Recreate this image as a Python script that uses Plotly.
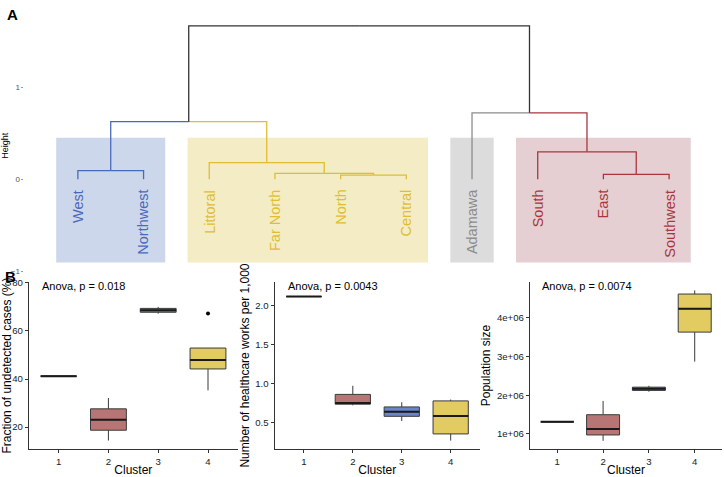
import plotly.graph_objects as go

# ---- A: hierarchical clustering of regions (k = 4) ----
leaves = ["West", "Northwest", "Littoral", "Far North", "North", "Central",
          "Adamawa", "South", "East", "Southwest"]
leaf_cluster = [3, 3, 4, 4, 4, 4, 1, 2, 2, 2]
# R-style merge matrix: negative = leaf index (1-based), positive = earlier merge
merge_left = [-1, -5, -4, -3, -9, -8, 1, -7, 7]
merge_right = [-2, -6, 2, 3, -10, 5, 4, 6, 8]
merge_height = [0.096, 0.046, 0.064, 0.182, 0.054, 0.30, 0.628, 0.725, 1.672]

# ---- B: box statistics per cluster ----
clusters = ["1", "2", "3", "4"]

undet_min = [41.2, 14.4, 67.2, 35.3]
undet_q1 = [41.2, 18.7, 67.8, 44.2]
undet_med = [41.2, 23.1, 68.6, 47.9]
undet_q3 = [41.2, 27.6, 69.4, 52.9]
undet_max = [41.2, 32.1, 70.0, 52.9]
undet_out_cluster = [4]
undet_out_y = [67.3]

hcw_min = [2.11, 0.72, 0.52, 0.27]
hcw_q1 = [2.11, 0.735, 0.58, 0.355]
hcw_med = [2.11, 0.75, 0.64, 0.585]
hcw_q3 = [2.11, 0.86, 0.70, 0.777]
hcw_max = [2.11, 0.97, 0.76, 0.794]

pop_min = [1313000, 822000, 2093000, 2871000]
pop_q1 = [1313000, 974000, 2126000, 3634000]
pop_med = [1313000, 1127000, 2169000, 4237000]
pop_q3 = [1313000, 1498000, 2210000, 4618000]
pop_max = [1313000, 1854000, 2246000, 4712000]

pvals = ["Anova, p = 0.018", "Anova, p = 0.0043", "Anova, p = 0.0074"]
ytitles = ["Fraction of undetected cases (%)",
           "Number of healthcare works per 1,000", "Population size"]

dend_col = {0: "#333333", 1: "#8C8C8C", 2: "#A9363F", 3: "#4A69BD", 4: "#DFBD35"}
rect_col = {1: "#DCDCDC", 2: "#E5CFD2", 3: "#CDD7EB", 4: "#F3ECC4"}
box_fill = {1: "#666666", 2: "#B87575", 3: "#6A86C8", 4: "#E2CB60"}

FONT = "Liberation Sans, Arial, sans-serif"
W, H = 724, 477
BOXW = 0.72


def ax(p):
    return "" if p == 1 else str(p)


fig = go.Figure()

# dendrogram segments
nodes = {}
for i, c in enumerate(leaf_cluster):
    nodes[-(i + 1)] = (i + 1, 0.0, c)
segs = {}
for m, (a, b, h) in enumerate(zip(merge_left, merge_right, merge_height), start=1):
    xa, ha, ca = nodes[a]
    xb, hb, cb = nodes[b]
    xm = (xa + xb) / 2
    for xc, hc, cc in [(xa, ha, ca), (xb, hb, cb)]:
        key = cc if cc else 0
        sx, sy = segs.setdefault(key, ([], []))
        sx.extend([xm, xc, xc, None])
        sy.extend([h, h, hc, None])
    nodes[m] = (xm, h, ca if ca == cb else None)

for key, (sx, sy) in segs.items():
    fig.add_trace(go.Scatter(x=sx, y=sy, mode="lines", xaxis="x4", yaxis="y4",
                             line=dict(color=dend_col[key], width=1.3),
                             hoverinfo="skip", showlegend=False))

shapes = []
for c in sorted(set(leaf_cluster)):
    idx = [i + 1 for i, lc in enumerate(leaf_cluster) if lc == c]
    shapes.append(dict(type="rect", xref="x4", yref="y4", layer="below",
                       x0=min(idx) - 0.33, x1=max(idx) + 0.33, y0=-0.905, y1=0.453,
                       fillcolor=rect_col[c], line=dict(width=0)))

annotations = []
for i, (name, c) in enumerate(zip(leaves, leaf_cluster)):
    annotations.append(dict(x=i + 1, y=-0.09, xref="x4", yref="y4", text=name,
                            textangle=-90, xanchor="center", yanchor="top",
                            showarrow=False,
                            font=dict(size=14.5, color=dend_col[c], family=FONT)))

# box panels
panels = [
    (undet_min, undet_q1, undet_med, undet_q3, undet_max),
    (hcw_min, hcw_q1, hcw_med, hcw_q3, hcw_max),
    (pop_min, pop_q1, pop_med, pop_q3, pop_max),
]
for p, (lo, q1, med, q3, hi) in enumerate(panels, start=1):
    mx, my = [], []
    for k in range(len(clusters)):
        xpos = k + 1
        fig.add_trace(go.Box(
            x=[xpos], lowerfence=[lo[k]], q1=[q1[k]], median=[med[k]],
            q3=[q3[k]], upperfence=[hi[k]], width=BOXW, whiskerwidth=0,
            fillcolor=box_fill[k + 1], line=dict(color="#3a3a3a", width=1),
            xaxis="x" + ax(p), yaxis="y" + ax(p), showlegend=False, hoverinfo="skip"))
        mx.extend([xpos - BOXW / 2, xpos + BOXW / 2, None])
        my.extend([med[k], med[k], None])
    # thicker median bar, as ggplot draws it
    fig.add_trace(go.Scatter(x=mx, y=my, mode="lines",
                             line=dict(color="#1a1a1a", width=2),
                             xaxis="x" + ax(p), yaxis="y" + ax(p),
                             showlegend=False, hoverinfo="skip"))

fig.add_trace(go.Scatter(x=undet_out_cluster, y=undet_out_y, mode="markers",
                         marker=dict(color="black", size=4), xaxis="x", yaxis="y",
                         showlegend=False, hoverinfo="skip"))

for p, txt in enumerate(pvals, start=1):
    annotations.append(dict(x=0.055, y=0.975, xref="x%s domain" % ax(p),
                            yref="y%s domain" % ax(p), text=txt, showarrow=False,
                            xanchor="left", yanchor="middle",
                            font=dict(size=11, color="black", family=FONT)))

annotations.append(dict(x=4 / W, y=1 - 10 / H, xref="paper", yref="paper", text="<b>A</b>",
                        showarrow=False, xanchor="left", yanchor="middle",
                        font=dict(size=15, color="black", family=FONT)))
annotations.append(dict(x=2 / W, y=1 - 276 / H, xref="paper", yref="paper", text="<b>B</b>",
                        showarrow=False, xanchor="left", yanchor="middle",
                        font=dict(size=15, color="black", family=FONT)))

axis_common = dict(showline=True, linecolor="#333333", linewidth=1, ticks="outside",
                   ticklen=3, tickcolor="#333333", showgrid=False, zeroline=False,
                   tickfont=dict(size=9.6, color="#222222", family=FONT))
xdomains = [(27.8 / W, 237.2 / W), (273.9 / W, 479.7 / W), (529.5 / W, 722.2 / W)]
yranges = [[10.83, 80.4], [0.161, 2.296], [608000, 4930000]]
ytick_vals = [[20, 40, 60, 80], [0.5, 1.0, 1.5, 2.0], [1e6, 2e6, 3e6, 4e6]]
ytick_text = [["20", "40", "60", "80"], ["0.5", "1.0", "1.5", "2.0"],
              ["1e+06", "2e+06", "3e+06", "4e+06"]]
ydom = (1 - 451.7 / H, 1 - 281.7 / H)

layout = dict(
    width=W, height=H, margin=dict(l=0, r=0, t=0, b=0),
    paper_bgcolor="white", plot_bgcolor="rgba(0,0,0,0)",
    font=dict(family=FONT), shapes=shapes, annotations=annotations,
    xaxis4=dict(domain=[23.5 / W, 722.5 / W], range=[0.187, 10.813], visible=False,
                anchor="y4"),
    yaxis4=dict(domain=[1 - 272.5 / H, 1 - 14 / H], range=[-1.02, 1.75], anchor="x4",
                tickvals=[-1, 0, 1], ticks="outside", ticklen=2, tickcolor="#999999",
                showline=False, showgrid=False, zeroline=False,
                tickfont=dict(size=8, color="#555555", family=FONT),
                title=dict(text="Height", standoff=4,
                           font=dict(size=9, color="black", family=FONT))),
)
for p in range(1, 4):
    layout["xaxis" + ax(p)] = dict(
        axis_common, domain=list(xdomains[p - 1]), anchor="y" + ax(p),
        range=[0.4, 4.6], tickvals=[1, 2, 3, 4], ticktext=clusters,
        title=dict(text="Cluster", standoff=2,
                   font=dict(size=12, color="black", family=FONT)))
    layout["yaxis" + ax(p)] = dict(
        axis_common, domain=list(ydom), anchor="x" + ax(p), range=yranges[p - 1],
        tickvals=ytick_vals[p - 1], ticktext=ytick_text[p - 1],
        title=dict(text=ytitles[p - 1], standoff=3,
                   font=dict(size=12, color="black", family=FONT)))
fig.update_layout(**layout)

fig.write_html("out.html", config={"displayModeBar": False},
               post_script="document.body.style.margin='0';")
